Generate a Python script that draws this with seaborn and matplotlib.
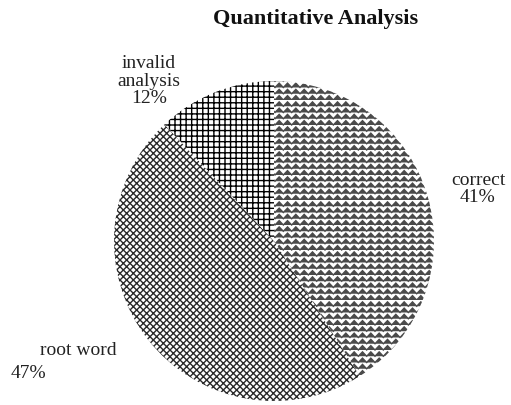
import warnings
import numpy as np
import matplotlib
matplotlib.use("Agg")
import matplotlib.pyplot as plt
import matplotlib.hatch as mhatch
from matplotlib.patches import Wedge
from matplotlib.path import Path
import seaborn as sns

warnings.filterwarnings("ignore")

# ---- data ----
categories = ["correct", "root word", "invalid analysis"]
values = [41, 47, 12]
pct_labels = ["41%", "47%", "12%"]
title = "Quantitative Analysis"


# ---- custom zig-zag hatch ('z') ----
class ZigZagHatch(mhatch.HatchPatternBase):
    def __init__(self, hatch, density):
        self.num_lines = int(hatch.count('z') * density * 8 / 3)
        self.teeth = int(self.num_lines * 0.75)
        self.num_vertices = self.num_lines * (2 * self.teeth + 1) if self.num_lines else 0

    def set_vertices_and_codes(self, vertices, codes):
        n, t = self.num_lines, self.teeth
        npts = 2 * t + 1
        xs = np.linspace(0, 1, npts)
        amp = 0.7 / n
        idx = 0
        for i in range(n):
            y0 = i / n
            ys = y0 + np.where(np.arange(npts) % 2 == 0, 0.0, amp)
            vertices[idx:idx + npts, 0] = xs
            vertices[idx:idx + npts, 1] = ys
            codes[idx] = Path.MOVETO
            codes[idx + 1:idx + npts] = Path.LINETO
            idx += npts


mhatch._hatch_types.append(ZigZagHatch)

sns.set_theme(style="white")
plt.rcParams["font.family"] = ["Liberation Serif", "DejaVu Serif"]
plt.rcParams["hatch.linewidth"] = 1.0

W, H = 511, 406
fig = plt.figure(figsize=(W / 100, H / 100), dpi=100)
cx, cy, r = 274, 242, 160
ax = fig.add_axes([(cx - r) / W, (H - cy - r) / H, 2 * r / W, 2 * r / H])

hatches = ["z", "xxxxx", "+++"]
hatch_lw = [0.85, 1.15, 1.3]
hatch_col = ["#4a4a4a", "#2a2a2a", "black"]
wedges, _ = ax.pie(values, startangle=90, counterclock=False, radius=1,
                   colors=["white"] * 3,
                   wedgeprops=dict(edgecolor="black", linewidth=0))


def make_draw(wedge, lw):
    def _draw(renderer):
        with plt.rc_context({"hatch.linewidth": lw}):
            Wedge.draw(wedge, renderer)
    return _draw


for w, h, lw, hc in zip(wedges, hatches, hatch_lw, hatch_col):
    w.set_edgecolor(hc)
    w.set_linewidth(0)
    w.set_hatch(h)
    w.draw = make_draw(w, lw)
ax.set_xlim(-1, 1)
ax.set_ylim(-1, 1)


def d(px, py):
    return ((px - cx) / r, (cy - py) / r)


fs = 14
tc = "#222222"
# correct
x, y = d(478, 189)
ax.text(x, y, f"{categories[0]}\n{pct_labels[0]}", ha="center", va="center",
        fontsize=fs, linespacing=1.05, color=tc)
# invalid analysis
x, y = d(149, 81)
ax.text(x, y, "invalid\nanalysis\n" + pct_labels[2], ha="center", va="center",
        fontsize=fs, linespacing=1.05, color=tc)
# root word
x, y = d(78, 351)
ax.text(x, y, categories[1], ha="center", va="center", fontsize=fs, color=tc)
x, y = d(28, 374)
ax.text(x, y, pct_labels[1], ha="center", va="center", fontsize=fs, color=tc)

fig.text(316 / W, 1 - 19 / H, title, ha="center", va="center",
         fontsize=16, fontweight="bold", color="#111111")

fig.savefig("out.png", dpi=100)
